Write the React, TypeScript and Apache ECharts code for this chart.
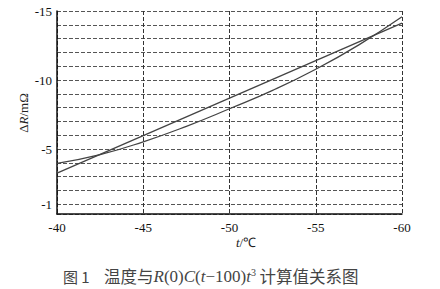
import React, { useEffect, useRef } from "react";
import * as echarts from "echarts";

const temps = [-40, -42.5, -45, -47.5, -50, -52.5, -55, -57.5, -60];
const curveValues = [-3.97, -4.6, -5.53, -6.65, -7.92, -9.25, -10.78, -12.55, -14.58];
const lineTemps = [-40, -60];
const lineValues = [-3.26, -14.12];
const yLabelValues = [-15, -10, -5, -1];
const xTicks = [-40, -45, -50, -55, -60];

export default function App() {
  const ref = useRef<HTMLDivElement>(null);
  useEffect(() => {
    if (!ref.current) return;
    const chart = echarts.init(ref.current, null, { renderer: "svg" });
    const serif = "Liberation Serif, Times New Roman, serif";
    chart.setOption({
      animation: false,
      backgroundColor: "#fff",
      grid: { left: 57, right: 38, top: 11, bottom: 75 },
      xAxis: {
        type: "value",
        min: -60,
        max: -40,
        interval: 5,
        inverse: true,
        axisLine: { show: true, onZero: false, lineStyle: { color: "#111", width: 1.5 } },
        axisTick: { show: false },
        axisLabel: {
          color: "#111",
          fontFamily: serif,
          fontSize: 13,
          margin: 7,
          formatter: (v: number) => (xTicks.includes(v) ? String(v) : ""),
        },
        splitLine: { show: true, lineStyle: { color: "#333", type: [4, 2], width: 1 } },
      },
      yAxis: {
        type: "value",
        min: -15,
        max: -0.3,
        interval: 1,
        inverse: true,
        axisLine: { show: true, onZero: false, lineStyle: { color: "#111", width: 1.5 } },
        axisTick: { show: false },
        axisLabel: {
          color: "#111",
          fontFamily: serif,
          fontSize: 13,
          margin: 5,
          formatter: (v: number) => (yLabelValues.includes(Math.round(v * 100) / 100) ? String(v) : ""),
        },
        splitLine: { show: true, lineStyle: { color: "#555", type: [4, 2], width: 1 } },
      },
      series: [
        {
          type: "line",
          data: temps.map((t, i) => [t, curveValues[i]]),
          smooth: true,
          showSymbol: false,
          lineStyle: { color: "#444", width: 1.3 },
        },
        {
          type: "line",
          data: lineTemps.map((t, i) => [t, lineValues[i]]),
          showSymbol: false,
          lineStyle: { color: "#444", width: 1.3 },
        },
      ],
      graphic: [
        {
          type: "text",
          x: 23,
          y: 113,
          rotation: Math.PI / 2,
          style: {
            text: "{n|Δ}{i|R}{n|/mΩ}",
            align: "center",
            verticalAlign: "middle",
            rich: {
              n: { fontFamily: serif, fontSize: 13, fill: "#222" },
              i: { fontFamily: serif, fontSize: 13, fontStyle: "italic", fill: "#222" },
            },
          },
        },
        {
          type: "text",
          x: 246,
          y: 242,
          style: {
            text: "{i|t}{n|/℃}",
            align: "center",
            verticalAlign: "middle",
            rich: {
              n: { fontFamily: serif, fontSize: 13, fill: "#222" },
              i: { fontFamily: serif, fontSize: 13, fontStyle: "italic", fill: "#222" },
            },
          },
        },
        {
          type: "text",
          x: 63,
          y: 276,
          style: {
            text: "图 1",
            fontFamily: "Noto Sans CJK SC",
            fontSize: 15,
            fill: "#444",
            align: "left",
            verticalAlign: "middle",
          },
        },
        {
          type: "text",
          x: 104,
          y: 276,
          style: {
            text: "{c|温度与}{i|R}{r|(0)}{i|C}{r|(}{i|t}{r|−100)}{i|t}{sup|3}{c| 计算值关系图}",
            align: "left",
            verticalAlign: "middle",
            rich: {
              c: { fontFamily: "Noto Sans CJK SC", fontSize: 16.5, fill: "#444", lineHeight: 18 },
              i: { fontFamily: serif, fontSize: 17, fontStyle: "italic", fill: "#444", lineHeight: 18 },
              r: { fontFamily: serif, fontSize: 17, fill: "#444", lineHeight: 18 },
              sup: { fontFamily: serif, fontSize: 10, fill: "#444", verticalAlign: "top", lineHeight: 18 },
            },
          },
        },
      ],
    });
    return () => chart.dispose();
  }, []);
  return <div ref={ref} style={{ position: "fixed", left: 0, top: 0, width: 440, height: 289 }} />;
}
